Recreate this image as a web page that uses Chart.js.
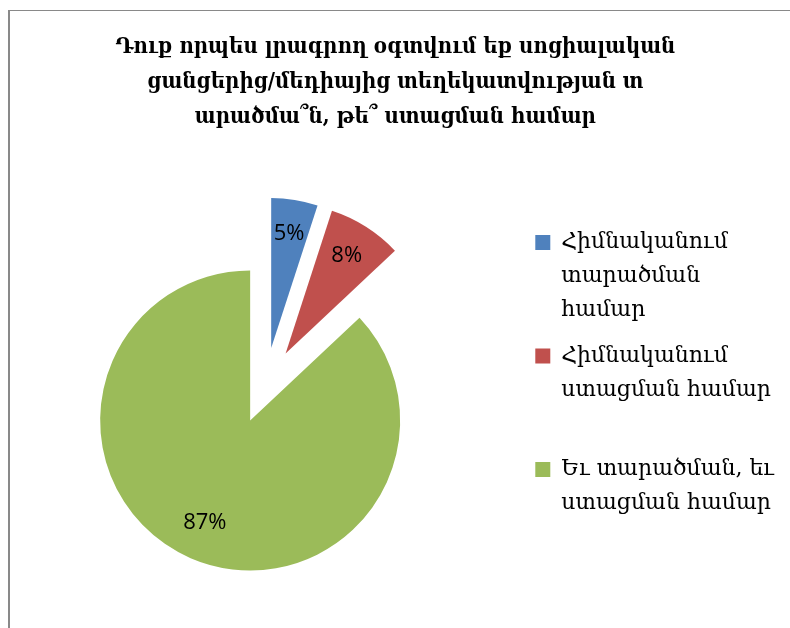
<!DOCTYPE html>
<html>
<head>
<meta charset="utf-8">
<script src="https://cdn.jsdelivr.net/npm/chart.js@4/dist/chart.umd.min.js"></script>
<style>
  html, body { margin: 0; background: #fff; }
  #wrap { position: relative; width: 790px; height: 628px; overflow: hidden; }
  #frame { position: absolute; left: 8px; top: 10px; width: 820px; height: 660px;
           border-top: 1px solid #898989; border-left: 2px solid #898989; }
  #chart { position: absolute; left: 0; top: 0; }
</style>
</head>
<body>
<div id="wrap">
  <div id="frame"></div>
  <canvas id="chart" width="790" height="628"></canvas>
</div>
<script>
const titleLines = [
    'Դուք որպես լրագրող օգտվում եք սոցիալական',
    'ցանցերից/մեդիայից տեղեկատվության տ',
    'արածմա՞ն, թե՞ ստացման համար'
];
const categories = [
    ['Հիմնականում', 'տարածման', 'համար'],
    ['Հիմնականում', 'ստացման համար'],
    ['Եւ տարածման, եւ', 'ստացման համար']
];
const shares = [5, 8, 87];
const sliceColors = ['#4F81BD', '#C0504D', '#9BBB59'];

// every slice pulled out from the centre, like the exploded pie in Excel
const explode = 38;

const explodedPie = {
    id: 'explodedPie',
    beforeDatasetDraw(chart, args) {
        const ctx = chart.ctx;
        const arcs = args.meta.data;
        const total = shares.reduce((a, b) => a + b, 0);
        arcs.forEach(arc => {
            const mid = (arc.startAngle + arc.endAngle) / 2;
            ctx.save();
            ctx.translate(Math.cos(mid) * explode, Math.sin(mid) * explode);
            arc.draw(ctx);
            ctx.restore();
        });
        ctx.save();
        ctx.font = '22px "Open Sans"';
        ctx.fillStyle = '#000';
        ctx.textAlign = 'center';
        ctx.textBaseline = 'middle';
        arcs.forEach((arc, i) => {
            const mid = (arc.startAngle + arc.endAngle) / 2;
            const r = explode + arc.outerRadius * 0.76;
            const pct = Math.round(shares[i] / total * 100) + '%';
            ctx.fillText(pct, arc.x + Math.cos(mid) * r, arc.y + Math.sin(mid) * r - 2);
        });
        ctx.restore();
        return false;
    }
};

const maxLines = Math.max(...categories.map(c => c.length));

new Chart(document.getElementById('chart'), {
    type: 'pie',
    data: {
        labels: categories,
        datasets: [{
            data: shares,
            backgroundColor: sliceColors,
            borderWidth: 0,
            radius: 150
        }]
    },
    options: {
        responsive: false,
        animation: false,
        events: [],
        layout: {
            padding: { left: 6.7, right: 6, top: 0, bottom: 76.8 }
        },
        plugins: {
            title: {
                display: true,
                text: titleLines,
                color: '#000',
                font: { family: '"DejaVu Serif Condensed", "DejaVu Serif"', size: 22, weight: 'bold', lineHeight: 35 / 22 },
                padding: { top: 30, bottom: 85 }
            },
            legend: {
                display: true,
                position: 'right',
                align: 'start',
                fullSize: false,
                labels: {
                    color: '#000',
                    boxWidth: 15,
                    boxHeight: 15,
                    padding: 11.5,
                    font: { family: 'DejaVu Serif', size: 22, lineHeight: 34 / 22 },
                    generateLabels(chart) {
                        const items = Chart.overrides.doughnut.plugins.legend.labels.generateLabels(chart);
                        // Excel spaces the entries evenly, so pad the shorter ones with empty lines
                        items.forEach((item, i) => {
                            const lines = categories[i].slice();
                            if (i < items.length - 1) {
                                while (lines.length < maxLines) lines.push('');
                            }
                            item.text = lines;
                        });
                        return items;
                    }
                }
            },
            tooltip: { enabled: false }
        }
    },
    plugins: [explodedPie]
});
</script>
</body>
</html>
